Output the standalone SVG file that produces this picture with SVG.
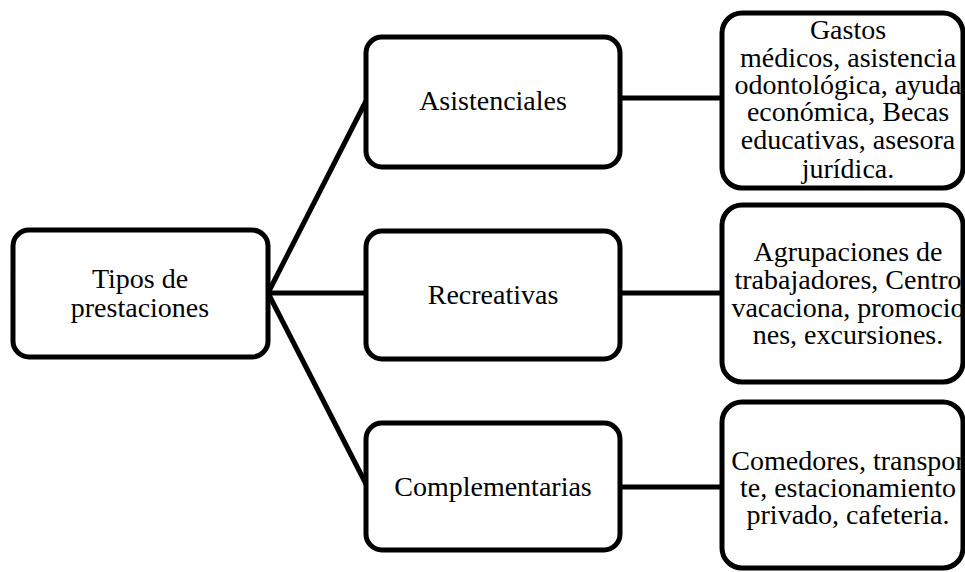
<svg xmlns="http://www.w3.org/2000/svg" width="965" height="572" viewBox="0 0 965 572">
  <style>
    .box { fill: #ffffff; stroke: #000000; stroke-width: 5; }
    .link { stroke: #000000; stroke-width: 5; fill: none; }
    text { font-family: "Liberation Serif", "Times New Roman", serif; font-size: 28px; fill: #000000; text-anchor: middle; }
  </style>
  <rect width="965" height="572" fill="#ffffff"/>

  <g id="connectors">
    <line class="link" x1="268" y1="293" x2="366" y2="101"/>
    <line class="link" x1="268" y1="293" x2="366" y2="293"/>
    <line class="link" x1="268" y1="293" x2="366" y2="484"/>
    <line class="link" x1="620" y1="98" x2="722" y2="98"/>
    <line class="link" x1="620" y1="293" x2="722" y2="293"/>
    <line class="link" x1="620" y1="487" x2="722" y2="487"/>
  </g>

  <g id="root">
    <rect class="box" x="13" y="230" width="255" height="127" rx="16"/>
    <text x="140" y="288">Tipos de</text>
    <text x="140" y="317">prestaciones</text>
  </g>

  <g id="asistenciales">
    <rect class="box" x="366" y="37" width="254" height="130" rx="16"/>
    <text x="493" y="110">Asistenciales</text>
  </g>

  <g id="recreativas">
    <rect class="box" x="366" y="231" width="254" height="128" rx="16"/>
    <text x="493" y="304">Recreativas</text>
  </g>

  <g id="complementarias">
    <rect class="box" x="366" y="423" width="254" height="127" rx="16"/>
    <text x="493" y="496">Complementarias</text>
  </g>

  <g id="asistenciales-detalle">
    <rect class="box" x="722" y="13" width="241" height="175" rx="20"/>
    <text x="848" y="39">Gastos</text>
    <text x="848" y="67">médicos, asistencia</text>
    <text x="848" y="94">odontológica, ayuda</text>
    <text x="848" y="121">económica, Becas</text>
    <text x="848" y="149">educativas, asesora</text>
    <text x="848" y="178">jurídica.</text>
  </g>

  <g id="recreativas-detalle">
    <rect class="box" x="722" y="205" width="241" height="177" rx="20"/>
    <text x="848" y="261">Agrupaciones de</text>
    <text x="848" y="289">trabajadores, Centro</text>
    <text x="848" y="317">vacaciona, promocio</text>
    <text x="848" y="344">nes, excursiones.</text>
  </g>

  <g id="complementarias-detalle">
    <rect class="box" x="722" y="402" width="241" height="166" rx="20"/>
    <text x="848" y="470">Comedores, transpor</text>
    <text x="848" y="497">te, estacionamiento</text>
    <text x="848" y="524">privado, cafeteria.</text>
  </g>
</svg>
